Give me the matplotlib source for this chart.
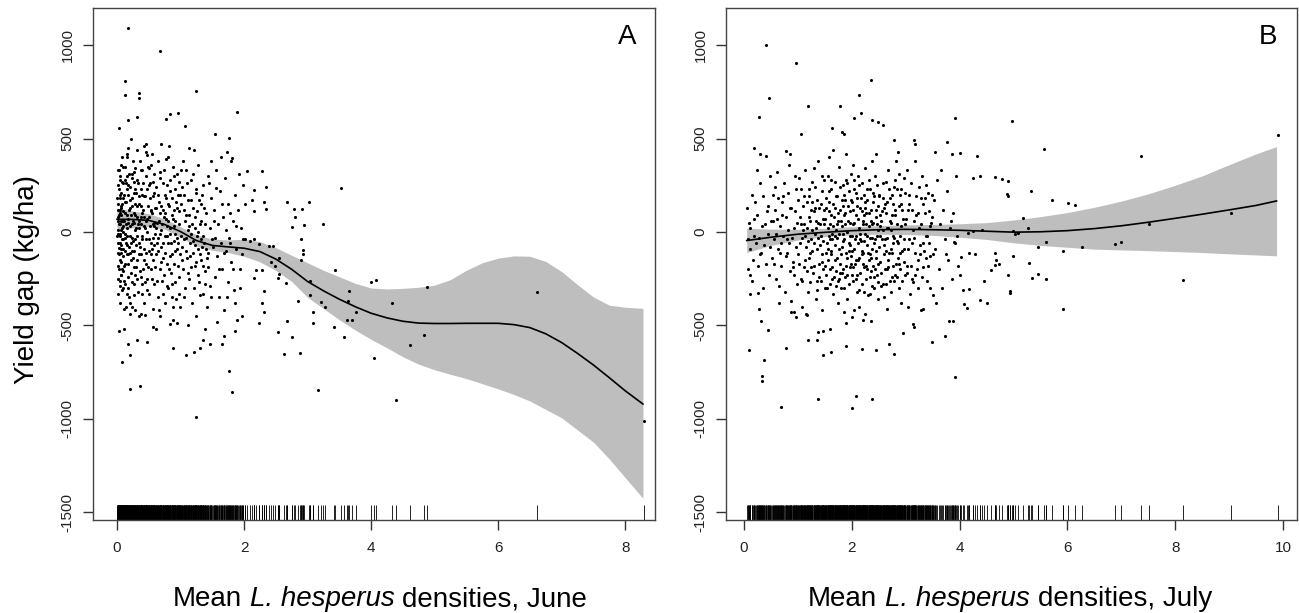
import matplotlib
matplotlib.use("Agg")
import matplotlib.pyplot as plt
import numpy as np

plt.rcParams['font.family'] = ['Liberation Sans', 'DejaVu Sans']
plt.rcParams['axes.unicode_minus'] = False

# ---- June (panel A): field points (density, yield gap)
june_points = [
    # dense core, x 0-0.1
    (0.01, 120), (0.02, -60), (0.02, 250), (0.03, -85), (0.03, 40), (0.04, 180), (0.04, -150), (0.05, 300),
    (0.05, -20), (0.06, 90), (0.06, -230), (0.07, 210), (0.07, -110), (0.08, 20), (0.08, 150), (0.09, -300),
    (0.09, 60), (0.10, 260), (0.10, -40), (0.01, -180), (0.02, 80), (0.03, 330), (0.04, -10), (0.05, -260),
    (0.06, 140), (0.07, -70), (0.08, 400), (0.09, -130), (0.10, 110), (0.01, 10), (0.03, -120), (0.05, 200),
    (0.07, 60), (0.09, -210), (0.02, -250), (0.04, 100), (0.06, -90), (0.08, -200), (0.10, 30), (0.05, -380),
    (0.00, -20), (0.00, 180), (0.01, -110), (0.01, 330), (0.01, 60), (0.02, -330), (0.02, 150), (0.02, -10),
    (0.03, 230), (0.03, -200), (0.03, 90), (0.04, -60), (0.04, 280), (0.04, -290), (0.05, 120), (0.05, 40),
    (0.06, -160), (0.06, 360), (0.06, 10), (0.07, -230), (0.07, 130), (0.08, -40), (0.08, 270), (0.08, -310),
    (0.09, 180), (0.09, 0), (0.10, -90), (0.10, 350),
    # x 0.1-0.3
    (0.11, -260), (0.12, 350), (0.12, -30), (0.13, 160), (0.13, -170), (0.14, 260), (0.14, -60), (0.15, 90),
    (0.15, -330), (0.16, 420), (0.16, 20), (0.17, -120), (0.17, 200), (0.18, -240), (0.18, 70), (0.19, 310),
    (0.19, -80), (0.20, 130), (0.20, -380), (0.21, -20), (0.21, 240), (0.22, -150), (0.22, 500), (0.23, 40),
    (0.23, -270), (0.24, 180), (0.24, -100), (0.25, 380), (0.25, -50), (0.26, 100), (0.26, -190), (0.27, 270),
    (0.27, -340), (0.28, 10), (0.28, 150), (0.29, -230), (0.29, 340), (0.30, -70), (0.30, 210), (0.11, 60),
    (0.13, -10), (0.15, 230), (0.17, -300), (0.19, 120), (0.21, -440), (0.23, 290), (0.25, -140), (0.27, 50),
    (0.29, -40), (0.14, -400), (0.18, 450), (0.22, 90), (0.26, 320), (0.28, -420),
    (0.11, -180), (0.11, 200), (0.12, -100), (0.12, 100), (0.13, 280), (0.13, -280), (0.14, 40), (0.14, 160),
    (0.15, -120), (0.15, -20), (0.16, -70), (0.16, 300), (0.17, 50), (0.18, -170), (0.18, 250), (0.19, -350),
    (0.20, 30), (0.20, -110), (0.21, 170), (0.22, -220), (0.22, -60), (0.23, 140), (0.24, 310), (0.24, -30),
    (0.25, 60), (0.26, -280), (0.26, 210), (0.27, -100), (0.28, 90), (0.29, 230), (0.30, -190), (0.30, 20),
    (0.15, 400), (0.23, -400),
    # x 0.3-0.6
    (0.31, -150), (0.32, 280), (0.33, 40), (0.33, -320), (0.34, 150), (0.35, -60), (0.36, 380), (0.36, -210),
    (0.37, 80), (0.38, -120), (0.38, 230), (0.39, -20), (0.40, 330), (0.40, -280), (0.41, 120), (0.42, -90),
    (0.42, 460), (0.43, -380), (0.44, 20), (0.44, 190), (0.45, -170), (0.46, 300), (0.46, -40), (0.47, 70),
    (0.48, -250), (0.48, 410), (0.49, 140), (0.50, -100), (0.50, 250), (0.51, -330), (0.52, 30), (0.52, 180),
    (0.53, -200), (0.54, 360), (0.54, -60), (0.55, 100), (0.56, -150), (0.56, 270), (0.57, -410), (0.58, 50),
    (0.58, 210), (0.59, -280), (0.60, 130), (0.60, -10), (0.32, -20), (0.35, 60), (0.39, 200), (0.43, 80),
    (0.47, -310), (0.51, 340), (0.55, -90), (0.59, 30), (0.34, -450), (0.41, -200), (0.45, 430), (0.53, 110),
    (0.57, -30), (0.37, 330),
    (0.31, 140), (0.31, -250), (0.32, 80), (0.33, 260), (0.34, -120), (0.34, 20), (0.35, 190), (0.36, -80),
    (0.37, -240), (0.37, 140), (0.38, 40), (0.39, -330), (0.39, 100), (0.40, -40), (0.41, 260), (0.42, 30),
    (0.43, -150), (0.43, 190), (0.44, -270), (0.45, 60), (0.46, -110), (0.47, 230), (0.48, 0), (0.49, -190),
    (0.49, 350), (0.50, 80), (0.31, 440), (0.38, -440), (0.46, 470),
    (0.51, -40), (0.52, 260), (0.53, -120), (0.54, 120), (0.55, -250), (0.56, 40), (0.57, 190), (0.58, -70),
    (0.59, 310), (0.60, -190), (0.55, 420),
    # x 0.6-1.0
    (0.61, 240), (0.62, -120), (0.63, 50), (0.64, -350), (0.65, 380), (0.65, -30), (0.66, 160), (0.67, -200),
    (0.68, 290), (0.69, 10), (0.70, -80), (0.70, 470), (0.71, -260), (0.72, 120), (0.73, -140), (0.74, 330),
    (0.75, -20), (0.75, 200), (0.76, -380), (0.77, 70), (0.78, -170), (0.79, 250), (0.80, -60), (0.80, 400),
    (0.81, -300), (0.82, 140), (0.83, -10), (0.84, 280), (0.85, -220), (0.86, 90), (0.87, -120), (0.88, 350),
    (0.88, -400), (0.89, 30), (0.90, -50), (0.91, 230), (0.92, -270), (0.93, 160), (0.94, -90), (0.95, 310),
    (0.96, -180), (0.97, 40), (0.98, -330), (0.99, 200), (1.00, -20), (0.63, -60), (0.67, 100), (0.72, -330),
    (0.78, 30), (0.84, -130), (0.90, 120), (0.96, -60), (0.68, -450), (0.74, 80), (0.82, 460), (0.86, -350),
    (0.92, 60), (0.98, 270),
    (0.61, 20), (0.62, 130), (0.63, -260), (0.64, 200), (0.65, -100), (0.66, 60), (0.67, 320), (0.68, -10),
    (0.69, -160), (0.70, 140), (0.71, 40), (0.72, -60), (0.73, 260), (0.74, -230), (0.75, 100), (0.76, -110),
    (0.77, 180), (0.78, -290), (0.79, -20), (0.80, 150), (0.81, 60), (0.82, -200), (0.83, 220), (0.84, 20),
    (0.85, -60), (0.86, -280), (0.87, 180), (0.88, 70), (0.89, -170), (0.90, 300), (0.91, -100), (0.92, -10),
    (0.93, -360), (0.94, 130), (0.95, -30), (0.96, 200), (0.97, -240), (0.98, 110), (0.99, -120), (1.00, 330),
    (0.66, -420), (0.77, 390), (0.88, -470), (0.99, -400),
    # x 1.0-1.5
    (1.01, 150), (1.03, -150), (1.04, 380), (1.05, -40), (1.07, -300), (1.08, 90), (1.09, -100), (1.10, 260),
    (1.12, -220), (1.13, 30), (1.14, 450), (1.15, -130), (1.17, 170), (1.18, -380), (1.19, -50), (1.20, 310),
    (1.22, -180), (1.23, 80), (1.24, -450), (1.25, 210), (1.27, -90), (1.28, 360), (1.29, -270), (1.31, 40),
    (1.32, -150), (1.33, 150), (1.35, -330), (1.36, 250), (1.37, -60), (1.39, -210), (1.40, 100), (1.42, -400),
    (1.43, 300), (1.44, -110), (1.46, 20), (1.47, -290), (1.48, 180), (1.49, -40), (1.06, 200), (1.16, -10),
    (1.26, -20), (1.34, -80), (1.41, -140), (1.11, -500), (1.21, 440), (1.38, -520), (1.45, 260),
    (1.02, -80), (1.03, 240), (1.04, -200), (1.05, 120), (1.06, -350), (1.07, 60), (1.08, -30), (1.09, 330),
    (1.10, -140), (1.11, 10), (1.12, 170), (1.13, -250), (1.14, 90), (1.15, -60), (1.16, 280), (1.17, -190),
    (1.18, 40), (1.19, -110), (1.20, 130), (1.21, -300), (1.22, 20), (1.23, -70), (1.24, 230), (1.25, -160),
    (1.26, 110), (1.27, -230), (1.28, 0), (1.29, 170), (1.30, -120), (1.31, -340), (1.32, 60), (1.33, -40),
    (1.34, 200), (1.35, -180), (1.36, -20), (1.37, 130), (1.38, -280), (1.39, 40), (1.40, -90),
    (1.44, -190), (1.48, -350),
    # x 1.5-2.0
    (1.51, -80), (1.53, 120), (1.54, -240), (1.56, 330), (1.58, -130), (1.59, 40), (1.61, -350), (1.62, 220),
    (1.64, -60), (1.66, -200), (1.67, 80), (1.69, -420), (1.70, 290), (1.72, -100), (1.74, 150), (1.75, -270),
    (1.77, -30), (1.79, 380), (1.80, -160), (1.82, 60), (1.84, -310), (1.86, 200), (1.87, -90), (1.89, -470),
    (1.91, 120), (1.93, -200), (1.95, 20), (1.97, -120), (1.99, 250), (1.57, -480), (1.63, 400), (1.71, 10),
    (1.78, -60), (1.85, -380), (1.92, 310), (1.98, -40),
    (1.52, 60), (1.55, -30), (1.60, -200), (1.65, 150), (1.68, -110), (1.73, -350), (1.78, 100), (1.83, -200),
    (1.88, 30), (1.94, -300),
    # high and low outliers near the origin
    (0.18, 1094), (0.67, 969), (0.13, 808), (0.12, 735), (0.34, 719), (0.35, 746), (1.24, 756), (0.18, 600),
    (0.31, 617), (0.77, 606), (0.84, 631), (0.96, 637), (1.89, 642), (0.03, 554), (1.07, 569), (1.76, 502),
    (1.55, 523), (1.81, 394), (1.73, 427), (1.48, 381), (1.56, 235),
    (0.08, -696), (0.20, -842), (0.36, -823), (1.25, -990), (1.76, -744), (1.81, -858), (0.03, -531),
    (0.11, -521), (0.18, -598), (0.21, -660), (0.32, -577), (0.47, -587), (0.88, -619), (1.08, -656),
    (1.21, -640), (1.30, -623), (0.57, -510), (0.62, -519), (0.11, -410), (0.44, -442), (0.84, -494),
    (0.94, -490), (1.36, -581), (1.46, -598), (1.66, -598), (1.69, -556), (1.86, -531), (1.96, -448),
    # x beyond 2
    (2.04, 329), (2.29, 325), (2.15, 225), (2.35, 240), (2.68, 163), (2.78, 121), (3.03, 158), (3.24, 42),
    (3.53, 235), (2.89, -40), (2.93, -98), (2.93, -119), (2.89, -150), (3.43, -202), (3.04, -260), (3.04, -337),
    (3.28, -400), (3.21, -375), (3.08, -431), (3.08, -490), (3.41, -508), (3.57, -560), (3.62, -473),
    (3.70, -473), (3.77, -431), (3.66, -317), (3.64, -369), (4.00, -269), (4.08, -258), (4.05, -677),
    (3.16, -848), (2.29, -202), (2.48, -181), (2.42, -160), (2.55, -223), (2.53, -248), (2.66, -275),
    (2.85, -369), (2.29, -379), (2.32, -431), (2.23, -490), (2.54, -535), (2.75, -560), (2.63, -654),
    (2.88, -646), (2.68, -477), (2.32, -317), (2.15, -244), (2.19, -202), (2.39, -73), (2.45, -77),
    (2.55, -140), (2.15, -40), (2.23, -67), (2.09, -50), (2.02, -40), (2.95, 37), (2.92, 121), (2.81, 79),
    (2.75, 27), (2.32, 162), (2.34, 121), (2.15, 110), (2.12, 173), (2.02, 152),
    (4.33, -378), (4.88, -296), (6.61, -320), (4.84, -550), (4.62, -605), (4.39, -901), (8.30, -1014),
]

# ---- June smooth fit with its confidence band
june_fit_x = [0.0, 0.25, 0.5, 0.75, 1.0, 1.25, 1.5, 1.75, 2.0, 2.25, 2.5, 2.75, 3.0, 3.25, 3.5, 3.75, 4.0,
              4.25, 4.5, 4.75, 5.0, 5.25, 5.5, 5.75, 6.0, 6.25, 6.5, 6.75, 7.0, 7.25, 7.5, 7.75, 8.0, 8.28]
june_fit = [68, 67, 62, 40, 2, -46, -72, -80, -87, -105, -145, -200, -265, -315, -360, -400, -435,
            -460, -478, -488, -490, -490, -489, -489, -489, -496, -512, -545, -592, -650, -712, -780, -850, -921]
june_hi = [127, 112, 98, 70, 28, -15, -38, -43, -39, -52, -84, -125, -165, -205, -240, -275, -300,
           -305, -302, -296, -285, -255, -205, -165, -140, -128, -130, -158, -212, -282, -348, -392, -403, -409]
june_lo = [14, 22, 30, 15, -28, -76, -98, -110, -130, -160, -206, -265, -350, -410, -470, -525, -575,
           -620, -668, -708, -738, -762, -785, -812, -840, -870, -905, -950, -995, -1060, -1125, -1215, -1315, -1426]

# ---- July (panel B): field points
july_points = [
    # x 0-0.5
    (0.06, 130), (0.08, -200), (0.10, 50), (0.12, -90), (0.14, 200), (0.16, -150), (0.18, -20), (0.20, 160),
    (0.22, -60), (0.24, 90), (0.26, -180), (0.28, -30), (0.30, 260), (0.32, -110), (0.34, 30), (0.36, 190),
    (0.38, -70), (0.40, -170), (0.42, 110), (0.44, -10), (0.46, -230), (0.48, 300), (0.50, 60), (0.07, -40),
    (0.15, -260), (0.25, 330), (0.35, -300), (0.45, 140), (0.11, 20), (0.19, 70), (0.29, -120), (0.39, 40),
    (0.49, -80),
    # x 0.5-1.0
    (0.52, -140), (0.54, 200), (0.56, -40), (0.58, 120), (0.60, -250), (0.62, 320), (0.64, -90), (0.66, 30),
    (0.68, -180), (0.70, 160), (0.72, -20), (0.74, 260), (0.76, -320), (0.78, 80), (0.80, -110), (0.82, 210),
    (0.84, -60), (0.86, -210), (0.88, 130), (0.90, -160), (0.92, 20), (0.94, 300), (0.96, -80), (0.98, -280),
    (1.00, 170), (0.53, 60), (0.59, -10), (0.65, -290), (0.71, 90), (0.77, -130), (0.83, 360), (0.89, -30),
    (0.95, 110), (0.57, 240), (0.69, -60), (0.81, 10), (0.93, -230), (0.99, 50), (0.63, 180), (0.87, -370),
    (0.55, -170), (0.61, 70), (0.67, -110), (0.73, 190), (0.79, -40), (0.85, 130), (0.91, -190), (0.97, 230),
    (0.65, -380), (0.85, 420),
    # x 1.0-1.5
    (1.01, -120), (1.03, 80), (1.05, -250), (1.06, 230), (1.08, -30), (1.10, 140), (1.11, -190), (1.13, 330),
    (1.15, -80), (1.16, 20), (1.18, -320), (1.20, 190), (1.21, -140), (1.23, 60), (1.25, -40), (1.26, 270),
    (1.28, -220), (1.30, 110), (1.31, -10), (1.33, -360), (1.35, 170), (1.36, -90), (1.38, 380), (1.40, -170),
    (1.41, 40), (1.43, -260), (1.45, 220), (1.46, -50), (1.48, 120), (1.50, -300), (1.02, 290), (1.07, -400),
    (1.12, 40), (1.17, 160), (1.22, -270), (1.27, -100), (1.32, 240), (1.37, -30), (1.42, 150), (1.47, -200),
    (1.04, -60), (1.14, -150), (1.24, 120), (1.34, 60), (1.44, -120), (1.09, 10), (1.19, -50), (1.29, 340),
    (1.39, -240), (1.49, 280),
    (1.02, -170), (1.05, 40), (1.08, -260), (1.11, 190), (1.14, -20), (1.17, -210), (1.20, 80), (1.23, -110),
    (1.26, 10), (1.29, -180), (1.32, 130), (1.35, -260), (1.38, 50), (1.41, -70), (1.44, 300), (1.47, 70),
    (1.50, -180), (1.15, -440), (1.45, -420),
    (1.21, 230), (1.24, -190), (1.27, 160), (1.30, -60), (1.33, 20), (1.36, -310), (1.39, 130), (1.42, -20),
    (1.45, -160), (1.48, 40),
    # x 1.5-2.0
    (1.51, 70), (1.52, -230), (1.53, 180), (1.54, -60), (1.55, -150), (1.56, 300), (1.57, -20), (1.58, 110),
    (1.59, -280), (1.60, 40), (1.61, -120), (1.62, 230), (1.63, -190), (1.64, -40), (1.65, 150), (1.66, -330),
    (1.67, 80), (1.68, -70), (1.69, 270), (1.70, -210), (1.71, 10), (1.72, -140), (1.73, 190), (1.74, -260),
    (1.75, 60), (1.76, -10), (1.77, 350), (1.78, -170), (1.79, 120), (1.80, -300), (1.81, -80), (1.82, 30),
    (1.83, 250), (1.84, -200), (1.85, 90), (1.86, -40), (1.87, -240), (1.88, 170), (1.89, -110), (1.90, 420),
    (1.91, 0), (1.92, -360), (1.93, 140), (1.94, -60), (1.95, 220), (1.96, -190), (1.97, 50), (1.98, -130),
    (1.99, 310), (2.00, -20), (1.55, 20), (1.62, -100), (1.68, 130), (1.74, -380), (1.80, 60), (1.86, 200),
    (1.92, -230), (1.97, -70), (1.58, 400), (1.71, -290), (1.84, -10), (1.96, 110),
    (1.52, 130), (1.54, -300), (1.56, -90), (1.58, 220), (1.60, -200), (1.62, 90), (1.64, -250), (1.66, 30),
    (1.68, -150), (1.70, 190), (1.72, -30), (1.74, 100), (1.76, -250), (1.78, 240), (1.80, -120), (1.82, -220),
    (1.84, 140), (1.86, -300), (1.88, 40), (1.90, -180), (1.92, 260), (1.94, -280), (1.96, -20), (1.98, 170),
    (2.00, -230), (1.65, 440), (1.85, -430),
    (1.53, -110), (1.57, 160), (1.59, -40), (1.61, 280), (1.63, -10), (1.67, -240), (1.69, -20), (1.73, 40),
    (1.77, -90), (1.79, -220), (1.81, 170), (1.83, -50), (1.87, 100), (1.89, 280), (1.91, -140), (1.93, 60),
    (1.95, -100), (1.99, -170),
    # x 2.0-2.5
    (2.01, 160), (2.02, -260), (2.03, 40), (2.04, -90), (2.05, 230), (2.06, -170), (2.07, 90), (2.08, -20),
    (2.09, -320), (2.10, 180), (2.11, -60), (2.12, 300), (2.13, -140), (2.14, 20), (2.15, -220), (2.16, 130),
    (2.17, -50), (2.18, 260), (2.19, -280), (2.20, 60), (2.21, -110), (2.22, 200), (2.23, -190), (2.24, -10),
    (2.25, 340), (2.26, -250), (2.27, 100), (2.28, -70), (2.29, 170), (2.30, -340), (2.31, 30), (2.32, -150),
    (2.33, 230), (2.34, -30), (2.35, -210), (2.36, 120), (2.37, -90), (2.38, 380), (2.39, -180), (2.40, 50),
    (2.41, -300), (2.42, 190), (2.43, -40), (2.44, 80), (2.45, -140), (2.46, 250), (2.47, -230), (2.48, 10),
    (2.49, 140), (2.50, -80), (2.03, 360), (2.13, -400), (2.23, 90), (2.33, -120), (2.43, 300), (2.08, 210),
    (2.18, -100), (2.28, -200), (2.38, 40), (2.48, -360),
    (2.01, -100), (2.03, -190), (2.05, 50), (2.07, -250), (2.09, 140), (2.11, -150), (2.13, 250), (2.15, -40),
    (2.17, 180), (2.19, -120), (2.21, 40), (2.23, -320), (2.25, 130), (2.27, -180), (2.29, -20), (2.31, 280),
    (2.33, -240), (2.35, 60), (2.37, -290), (2.39, 210), (2.41, -60), (2.43, -200), (2.45, 120), (2.47, -20),
    (2.49, -270), (2.05, -420), (2.25, -440), (2.45, 420),
    (2.02, 120), (2.04, 280), (2.06, -40), (2.08, -150), (2.10, -230), (2.12, 70), (2.14, -310), (2.16, -10),
    (2.18, 110), (2.20, -170), (2.22, -50), (2.24, 160), (2.26, 40), (2.28, 230), (2.30, -110), (2.32, 100),
    (2.34, -330), (2.36, -140), (2.38, -30), (2.40, 160), (2.42, -240), (2.44, -100), (2.46, 40), (2.48, -170),
    (2.50, 190),
    # x 2.5-3.0
    (2.51, 200), (2.53, -160), (2.55, 60), (2.57, -280), (2.59, 130), (2.61, -40), (2.63, 270), (2.65, -200),
    (2.67, 20), (2.69, -110), (2.71, 180), (2.73, -320), (2.75, 90), (2.77, -60), (2.79, 240), (2.81, -230),
    (2.83, 40), (2.85, -140), (2.87, 310), (2.89, -20), (2.91, 150), (2.93, -260), (2.95, 70), (2.97, -90),
    (2.99, 210), (2.52, -20), (2.56, 110), (2.60, -350), (2.64, -100), (2.68, 330), (2.72, 50), (2.76, -180),
    (2.80, 120), (2.84, -50), (2.88, -300), (2.92, 230), (2.96, -160), (2.58, 10), (2.66, 160), (2.74, -240),
    (2.82, 380), (2.90, -110), (2.98, 40),
    (2.52, 90), (2.54, -220), (2.56, -40), (2.58, 260), (2.60, -120), (2.62, 150), (2.64, -280), (2.66, 20),
    (2.68, -190), (2.70, 60), (2.72, -90), (2.74, 200), (2.76, -20), (2.78, -260), (2.80, 90), (2.82, -170),
    (2.84, 230), (2.86, -60), (2.88, 140), (2.90, -200), (2.92, 30), (2.94, -100), (2.96, 290), (2.98, -230),
    (2.65, -410), (2.85, 430),
    (2.53, 30), (2.55, -290), (2.57, 180), (2.59, -70), (2.61, -200), (2.63, 100), (2.65, -30), (2.67, -150),
    (2.69, 230), (2.71, -260), (2.73, 10), (2.75, -110), (2.77, 150), (2.79, -30), (2.81, 280), (2.83, -240),
    (2.87, -170), (2.89, 200), (2.93, 120), (2.97, -40),
    # x 3.0-4.0
    (3.02, -180), (3.05, 120), (3.07, -40), (3.10, 260), (3.12, -250), (3.15, 60), (3.17, -110), (3.20, 190),
    (3.22, -300), (3.25, 20), (3.27, -70), (3.30, 300), (3.32, -190), (3.35, 100), (3.37, -20), (3.40, -260),
    (3.42, 210), (3.45, -130), (3.47, 50), (3.50, -340), (3.03, 330), (3.13, 10), (3.23, -150), (3.33, 150),
    (3.43, -60), (3.08, -330), (3.18, 380), (3.28, -420), (3.38, 250), (3.48, 80),
    (3.01, 70), (3.04, -90), (3.06, 200), (3.09, -180), (3.11, 120), (3.14, -270), (3.16, -30), (3.19, 90),
    (3.21, -200), (3.24, 240), (3.26, -120), (3.29, 40), (3.31, -240), (3.34, -100), (3.36, 180), (3.39, -20),
    (3.41, -180), (3.44, 110), (3.46, -300), (3.49, 200), (3.05, -400),
    (3.03, -220), (3.07, 150), (3.12, -60), (3.18, -230), (3.22, 100), (3.28, 180), (3.33, -60), (3.38, -140),
    (3.45, 30), (3.51, -120),
    (3.52, 170), (3.55, -90), (3.58, 280), (3.61, -200), (3.64, 40), (3.67, -300), (3.70, 120), (3.73, -40),
    (3.76, 220), (3.79, -150), (3.82, 20), (3.85, -250), (3.88, 100), (3.91, -60), (3.94, 300), (3.97, -180),
    (3.56, -380), (3.66, 330), (3.74, -120), (3.84, 60), (3.95, -20),
    # high outliers
    (0.41, 1000), (0.96, 902), (2.35, 815), (0.47, 715), (2.13, 735), (0.28, 617), (1.18, 673), (1.78, 673),
    (2.04, 610), (2.17, 635), (2.38, 600), (2.48, 590), (2.58, 573), (3.91, 610), (4.98, 594), (1.64, 558),
    (1.82, 537), (1.86, 523), (1.06, 523), (0.18, 448), (0.30, 417), (0.77, 433), (0.41, 406), (5.57, 444),
    (4.32, 406), (7.36, 408), (9.90, 517), (2.78, 490), (3.16, 490), (3.18, 469), (3.76, 479), (3.54, 427),
    (3.85, 419), (4.00, 423),
    # right-hand scatter
    (4.24, 288), (4.38, 298), (4.65, 294), (4.79, 281), (4.90, 271), (4.88, 204), (4.90, 194), (5.33, 221),
    (5.72, 169), (6.01, 156), (6.15, 146), (5.17, 73), (5.27, 23), (4.99, 6), (5.02, -10), (5.08, -6),
    (4.25, 6), (4.16, -8), (4.41, 10), (5.61, -52), (5.45, -81), (5.92, -102), (6.27, -81), (6.88, -62),
    (6.99, -52), (7.52, 44), (9.04, 100), (8.14, -258), (5.92, -415), (5.00, -129), (5.29, -165),
    (5.45, -223), (5.35, -244), (5.60, -254), (4.90, -233), (4.94, -317), (4.93, -327), (4.65, -115),
    (4.67, -150), (4.73, -171), (4.65, -177), (4.59, -206), (4.46, -265), (4.38, -365), (4.51, -379),
    (4.18, -306), (4.08, -385), (4.14, -406), (4.06, -310), (4.00, -233), (4.18, -115), (4.28, -119),
    (4.02, -135), (3.89, -52),
    # low outliers
    (0.09, -633), (0.69, -935), (0.38, -685), (0.33, -769), (0.34, -796), (0.31, -477), (0.28, -410),
    (0.26, -327), (0.12, -233), (0.12, -331), (0.45, -525), (0.78, -619), (0.92, -431), (1.18, -581),
    (1.38, -896), (2.00, -942), (2.07, -879), (2.37, -896), (1.90, -608), (2.19, -629), (2.45, -633),
    (2.79, -654), (2.69, -598), (3.48, -587), (3.91, -779), (3.73, -556), (3.81, -477), (3.87, -477),
    (2.95, -540), (3.15, -510), (3.13, -494), (2.91, -379), (3.32, -410), (1.62, -644), (1.47, -656),
    (1.37, -535), (1.47, -531), (1.36, -577), (1.60, -521), (2.35, -477), (2.00, -456), (2.21, -473),
    (1.90, -490), (0.96, -456), (1.16, -442), (0.87, -431),
]

# ---- July smooth fit with its confidence band
july_fit_x = [0.05, 0.5, 1.0, 1.5, 2.0, 2.5, 3.0, 3.5, 4.0, 4.5, 5.0, 5.5, 6.0, 6.5, 7.0, 7.5, 8.0, 8.5, 9.0, 9.5, 9.88]
july_fit = [-46, -28, -12, -2, 7, 12, 14, 12, 9, 4, -1, 1, 7, 18, 33, 52, 73, 95, 118, 142, 166]
july_hi = [20, 15, 14, 20, 28, 34, 38, 40, 44, 50, 64, 82, 104, 132, 165, 204, 250, 300, 360, 418, 457]
july_lo = [-110, -72, -43, -25, -15, -12, -14, -18, -28, -40, -58, -72, -82, -92, -96, -100, -105, -110, -117, -123, -128]

y_ticks = [-1500, -1000, -500, 0, 500, 1000]
june_ticks = [0, 2, 4, 6, 8]
july_ticks = [0, 2, 4, 6, 8, 10]


def panel(ax, pts, fx, fit, lo, hi, xlim, xticks, letter):
    px, py = np.array(pts, dtype=float).T
    ax.fill_between(fx, lo, hi, color='#bebebe', lw=0, zorder=1)
    ax.scatter(px, py, s=5, c='black', lw=0, zorder=2)
    ax.plot(fx, fit, color='black', lw=1.2, zorder=3)
    # rug along the bottom axis
    ax.vlines(px, 0, 0.03, transform=ax.get_xaxis_transform(), colors='black', lw=0.6, zorder=2)
    ax.set_xlim(*xlim)
    ax.set_ylim(-1542, 1199)
    ax.set_xticks(xticks)
    ax.set_yticks(y_ticks)
    ax.tick_params(length=7.2, width=1, color='#333333', labelsize=11, labelcolor='#222222')
    ax.tick_params(axis='x', pad=8)
    ax.tick_params(axis='y', pad=6)
    for lab in ax.get_yticklabels():
        lab.set_rotation(90)
        lab.set_va('center')
    for sp in ax.spines.values():
        sp.set_color('#444444')
        sp.set_linewidth(1.0)
    ax.text(0.95, 0.944, letter, transform=ax.transAxes, fontsize=20, ha='center', va='center')


def mixed_label(fig, xc, yb, parts, size=20):
    # lay out roman / italic pieces side by side, centred on xc (pixels)
    r = fig.canvas.get_renderer()
    objs = [fig.text(0, 0, s, fontsize=size, style=st, va='baseline', transform=None) for s, st in parts]
    probe1 = fig.text(0, 0, 'M M', fontsize=size)
    probe2 = fig.text(0, 0, 'MM', fontsize=size)
    gap = probe1.get_window_extent(r).width - probe2.get_window_extent(r).width
    probe1.remove()
    probe2.remove()
    widths = [o.get_window_extent(r).width for o in objs]
    x = xc - (sum(widths) + gap * (len(objs) - 1)) / 2
    for o, w in zip(objs, widths):
        o.set_position((x, yb))
        x += w + gap


fig = plt.figure(figsize=(12.99, 6.13), dpi=100)
axA = fig.add_axes([93 / 1299, 93 / 613, 562 / 1299, 512 / 613])
axB = fig.add_axes([726 / 1299, 93 / 613, 571 / 1299, 512 / 613])

panel(axA, june_points, june_fit_x, june_fit, june_lo, june_hi, (-0.378, 8.47), june_ticks, 'A')
panel(axB, july_points, july_fit_x, july_fit, july_lo, july_hi, (-0.334, 10.26), july_ticks, 'B')

fig.text(27 / 1299, 333 / 613, 'Yield gap (kg/ha)', rotation=90, fontsize=20, ha='center', va='center')
mixed_label(fig, 380, 7, [('Mean', 'normal'), ('L. hesperus', 'italic'), ('densities, June', 'normal')])
mixed_label(fig, 1010, 7, [('Mean', 'normal'), ('L. hesperus', 'italic'), ('densities, July', 'normal')])

fig.savefig('out.png', dpi=100)
